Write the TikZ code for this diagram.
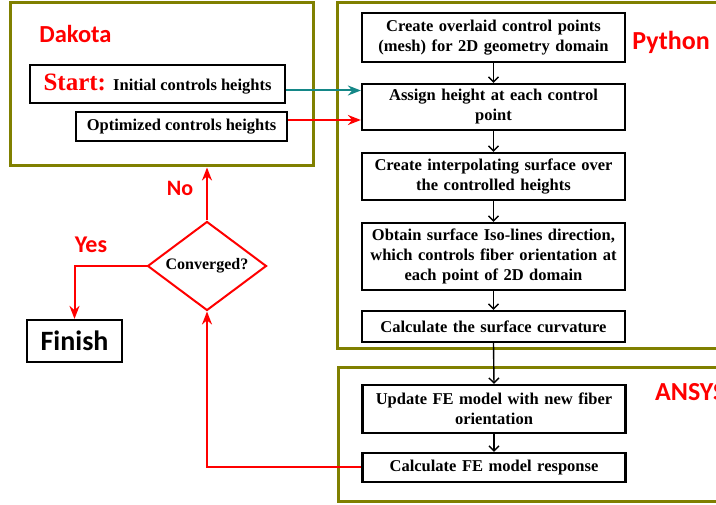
\documentclass[tikz,border=0pt]{standalone}
\usepackage{fontspec}
\setmainfont{Liberation Serif}
\newfontfamily\lblfont{Carlito}
\usetikzlibrary{shapes.geometric,arrows.meta,calc}
\definecolor{olivec}{RGB}{128,128,0}
\definecolor{tealc}{RGB}{20,135,135}
\definecolor{redc}{RGB}{255,0,0}
\tikzset{
  panel/.style={draw=olivec, line width=3pt, fill=none, inner sep=0pt},
  stepbox/.style={draw=black, line width=2.2pt, fill=white, minimum width=263pt, text width=258pt, align=center, inner sep=0pt,
    font=\bfseries\fontsize{16.5}{20}\selectfont},
  lbl/.style={text=redc, font=\lblfont\bfseries\fontsize{22}{26}\selectfont, inner sep=0pt},
  blackarrow/.style={draw=black, line width=1.4pt, -{Straight Barb[length=5pt,width=10pt,line width=1.4pt]}},
  redline/.style={draw=redc, line width=2pt},
  redarrow/.style={redline, -{Stealth[length=13pt,width=10pt]}},
  tealarrow/.style={draw=tealc, line width=2pt, -{Stealth[length=13pt,width=10pt]}},
}
\begin{document}
\begin{tikzpicture}[x=1pt,y=-1pt]
\clip (0,0) rectangle (716,505);
% panels
\node[panel, minimum width=303pt, minimum height=163pt] (dakota) at (161.5,84.5) {};
\node[panel, minimum width=403pt, minimum height=346pt] (python) at (538.5,176) {};
\node[panel, minimum width=402pt, minimum height=134pt] (ansys) at (539,435) {};
% panel labels
\node[lbl, font=\lblfont\bfseries\fontsize{24.5}{28}\selectfont] (ldak) at (75.5,34) {Dakota};
\node[lbl, font=\lblfont\bfseries\fontsize{26}{28}\selectfont] (lpy) at (671,42) {Python};
\node[lbl, anchor=west, font=\lblfont\bfseries\fontsize{26}{28}\selectfont] (lans) at (655,392) {ANSYS};
% Dakota boxes
\node[draw=black, line width=2.2pt, fill=white, minimum width=255pt, minimum height=38pt, inner sep=0pt] (start) at (157.5,84)
  {\bfseries{\color{redc}\fontsize{25}{28}\selectfont Start:}\,\fontsize{16.5}{19}\selectfont{} Initial controls heights};
\node[draw=black, line width=2.2pt, fill=white, minimum width=211pt, minimum height=29pt, inner sep=0pt,
  font=\bfseries\fontsize{16.5}{19}\selectfont] (opt) at (181.5,126.5) {Optimized controls heights};
% Python boxes
\node[stepbox, minimum height=49pt] (b1) at (493.5,37.5) {Create overlaid control points\\(mesh) for 2D geometry domain};
\node[stepbox, minimum height=46pt] (b2) at (493.5,107) {Assign height at each control\\point};
\node[stepbox, minimum height=47pt] (b3) at (493.5,176.5) {Create interpolating surface over\\the controlled heights};
\node[stepbox, minimum height=67pt] (b4) at (493.5,256.5) {Obtain surface Iso-lines direction,\\which controls fiber orientation at\\each point of 2D domain};
\node[stepbox, minimum height=31pt] (b5) at (493.5,326.5) {Calculate the surface curvature};
% ANSYS boxes
\node[stepbox, minimum height=48pt] (b6) at (494,409) {Update FE model with new fiber\\orientation};
\node[stepbox, minimum height=29pt] (b7) at (494,467.5) {Calculate FE model response};
% decision
\node[diamond, draw=redc, line width=2pt, minimum width=119pt, minimum height=89pt, inner sep=0pt] (dia) at (207,266) {};
\node[font=\bfseries\fontsize{16}{18}\selectfont, inner sep=0pt] (dtext) at (dia.center) {Converged?};
% finish
\node[draw=black, line width=2.2pt, fill=white, minimum width=95pt, minimum height=42pt, inner sep=0pt,
  font=\lblfont\bfseries\fontsize{28}{30}\selectfont] (finish) at (74.5,341) {Finish};
% labels
\node[lbl] (lno) at (180,188) {No};
\node[lbl, font=\lblfont\bfseries\fontsize{24}{26}\selectfont] (lyes) at (91,245) {Yes};
% connectors
\draw[blackarrow] (b1.south) -- (b2.north);
\draw[blackarrow] (b2.south) -- (b3.north);
\draw[blackarrow] (b3.south) -- (b4.north);
\draw[blackarrow] (b4.south) -- (b5.north);
\draw[blackarrow] (b5.south) -- (b6.north);
\draw[blackarrow] (b6.south) -- (b7.north);
\draw[tealarrow] ([yshift=-6.5pt]start.east) -- ([yshift=-6.5pt]start.east -| b2.west);
\draw[redarrow] ([yshift=6.5pt]opt.east) -- ([yshift=6.5pt]opt.east -| b2.west);
\draw[redarrow] (b7.west) -| (dia.south);
\draw[redarrow] (dia.north) -- (dia.north |- dakota.south);
\draw[redarrow] (dia.west) -| (finish.north);
\end{tikzpicture}
\end{document}
